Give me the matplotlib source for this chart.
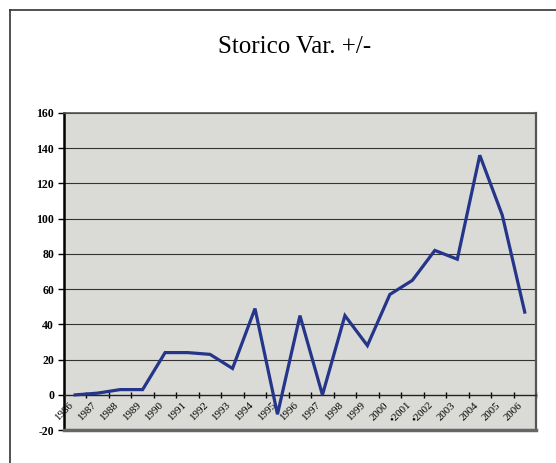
import numpy as np
import matplotlib.pyplot as plt
from matplotlib.lines import Line2D

plt.rcParams['font.family'] = ['Liberation Serif', 'DejaVu Serif']

# dati
anni = ['1986', '1987', '1988', '1989', '1990', '1991', '1992', '1993', '1994',
        '1995', '1996', '1997', '1998', '1999', '2000', '\u20222001', '\u20222002',
        '2003', '2004', '2005', '2006']
var = [0, 1, 3, 3, 24, 24, 23, 15, 49, -11, 45, 0, 45, 28, 57, 65, 82, 77, 136, 102, 47]
y_ticks = [-20, 0, 20, 40, 60, 80, 100, 120, 140, 160]

fig = plt.figure(figsize=(5.56, 4.63), dpi=100)
ax = fig.add_axes([0.115, 0.071, 0.849, 0.685])

x = np.arange(len(anni))
ax.set_facecolor('#dadad7')
for v in y_ticks[2:]:
    ax.axhline(v, color='#333333', lw=0.8, zorder=1)
ax.plot(x, var, color='#24358a', lw=2.3, zorder=3, solid_joinstyle='miter')

ax.set_xlim(-0.5, len(anni) - 0.5)
ax.set_ylim(-20, 160)
ax.set_yticks(y_ticks)
ax.set_yticklabels([str(v) for v in y_ticks], fontsize=8.5, fontweight='bold')

ax.spines['bottom'].set_position(('data', 0))
ax.spines['bottom'].set_color('#222222')
ax.spines['bottom'].set_linewidth(1.0)
ax.spines['left'].set_linewidth(1.8)
ax.spines['left'].set_color('black')
ax.spines['top'].set_color('#555555')
ax.spines['top'].set_linewidth(1.2)
ax.spines['right'].set_color('#555555')
ax.spines['right'].set_linewidth(1.6)
ax.axhline(-20, color='#666666', lw=2.5, zorder=4, clip_on=False)

ax.set_xticks(x)
ax.set_xticklabels(anni, rotation=45, ha='right', va='top', fontsize=7.8)
ax.set_xticks(np.arange(len(anni) + 1) - 0.5, minor=True)
ax.tick_params(axis='x', which='major', length=0, pad=4)
ax.tick_params(axis='x', which='minor', length=4, direction='inout', width=1)
ax.tick_params(axis='y', length=4, width=1, direction='out', pad=3)

fig.text(0.53, 0.898, 'Storico Var. +/-', ha='center', va='center', fontsize=18)

# cornice esterna
fig.add_artist(Line2D([0.018, 1.0], [0.978, 0.978], color='#333333', lw=1.2))
fig.add_artist(Line2D([0.018, 0.018], [0.0, 0.978], color='#333333', lw=1.2))

fig.savefig('out.png', dpi=100)
